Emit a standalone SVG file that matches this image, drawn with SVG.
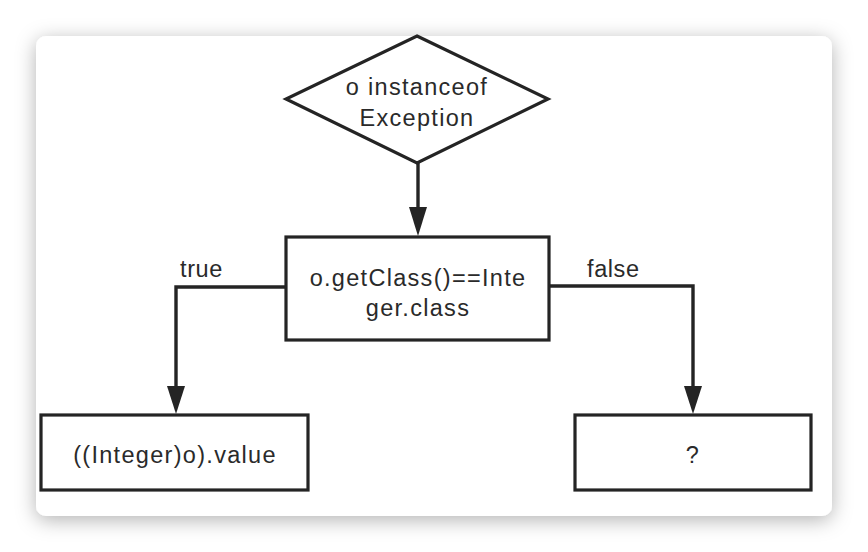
<svg xmlns="http://www.w3.org/2000/svg" width="868" height="552" viewBox="0 0 868 552">
<style>
.n{fill:#fff;stroke:#242424;stroke-width:3.2;stroke-linejoin:miter}
.t{font-family:"Liberation Sans",Arial,sans-serif;font-size:23.5px;fill:#2a2a2a;text-anchor:middle;letter-spacing:1.3px}
.l{font-family:"Liberation Sans",Arial,sans-serif;font-size:23.5px;fill:#2a2a2a;letter-spacing:0.6px}
.c{fill:none;stroke:#242424;stroke-width:3.4}
.a{fill:#242424}
</style>
<defs>
<filter id="sh" x="-10%" y="-10%" width="120%" height="125%">
<feDropShadow dx="0" dy="4" stdDeviation="10" flood-color="#000" flood-opacity="0.3"/>
</filter>
</defs>
<rect width="868" height="552" fill="#fff"/>
<rect x="36" y="36" width="796" height="480" rx="10" ry="10" fill="#fff" filter="url(#sh)"/>
<g id="connectors">
<line class="c" x1="418" y1="163" x2="418" y2="207"/>
<polygon class="a" points="409,207 427,207 418,236"/>
<polyline class="c" points="286,287 176,287 176,386"/>
<polygon class="a" points="167,386 185,386 176,414"/>
<polyline class="c" points="549,286 693,286 693,386"/>
<polygon class="a" points="684,386 702,386 693,414"/>
<text class="l" x="180" y="277">true</text>
<text class="l" x="587" y="277">false</text>
</g>
<g id="decision">
<polygon class="n" points="417,36 548,99 417,163 286,99"/>
<text class="t" x="417" y="95">o instanceof</text>
<text class="t" x="417" y="126">Exception</text>
</g>
<g id="check">
<rect class="n" x="286" y="237" width="263" height="103"/>
<text class="t" x="418" y="286">o.getClass()==Inte</text>
<text class="t" x="418" y="316">ger.class</text>
</g>
<g id="trueBox">
<rect class="n" x="41" y="415" width="267" height="75"/>
<text class="t" x="175" y="463">((Integer)o).value</text>
</g>
<g id="falseBox">
<rect class="n" x="575" y="415" width="236" height="75"/>
<text class="t" x="693" y="463">?</text>
</g>
</svg>
